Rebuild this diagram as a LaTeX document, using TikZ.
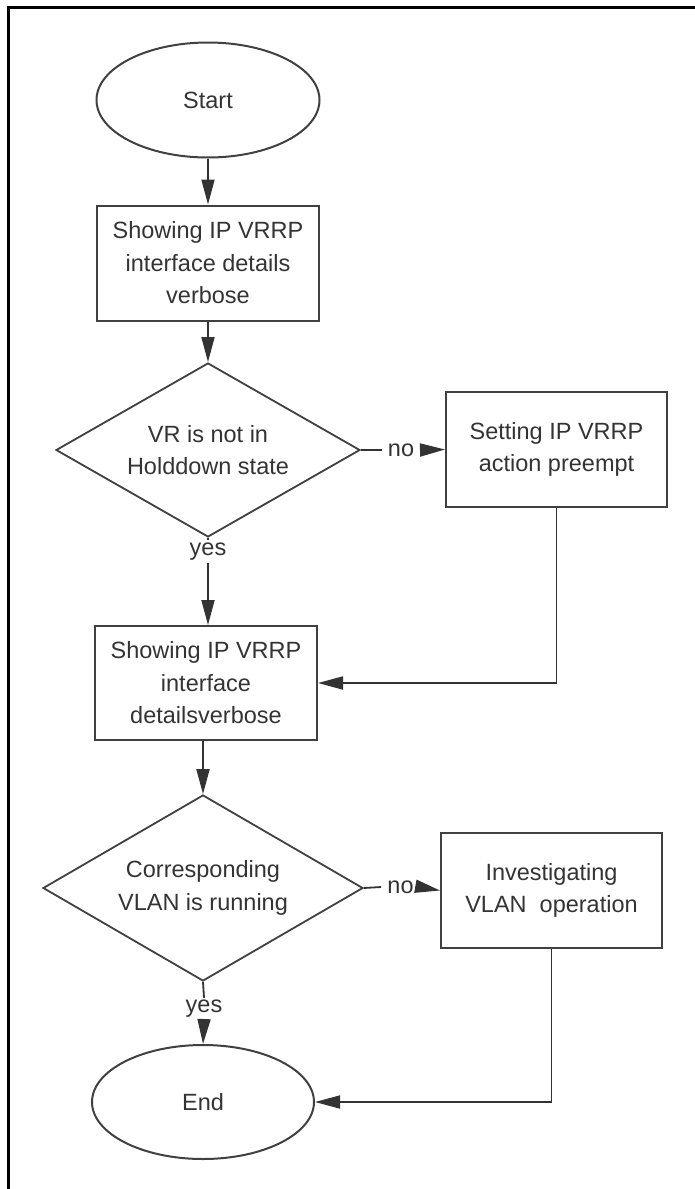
\documentclass[tikz,border=0pt]{standalone}
\usepackage{fontspec}
\setmainfont{Liberation Sans}
\usetikzlibrary{arrows.meta,shapes.geometric}

\begin{document}
\begin{tikzpicture}[x=0.5pt,y=-0.5pt,
  every node/.style={font=\fontsize{11.75}{16.25}\selectfont,text=black!80,align=center},
  terminal/.style={ellipse,draw=black!75,line width=1pt,minimum width=111.5pt,minimum height=57.5pt,inner sep=0pt},
  process/.style={rectangle,draw=black!75,line width=1pt,minimum width=111pt,minimum height=57.5pt,inner sep=0pt},
  decision/.style={diamond,draw=black!75,line width=0.9pt,aspect=1.75,inner sep=0pt},
  answer/.style={fill=white,inner xsep=3pt,inner ysep=1pt},
  flow/.style={draw=black!80,line width=0.9pt,-{Triangle[length=12.5pt,width=6.5pt]}},
  link/.style={draw=black!80,line width=0.9pt}]
\useasboundingbox (0,0) rectangle (695,1189);
\draw[line width=1.5pt] (8.5,1189) -- (8.5,7.5) -- (695,7.5);
\coordinate (S) at (208,100);
\coordinate (P1) at (208,263);
\coordinate (D1) at (208,450);
\coordinate (P2) at (556.5,449.5);
\coordinate (P3) at (206,683);
\coordinate (D2) at (203,888);
\coordinate (P4) at (551.5,890.5);
\coordinate (E) at (203,1102);
\node[terminal] (start) at (S) {Start};
\node[process] (show1) at (P1) {Showing IP VRRP\\interface details\\verbose};
\node[decision,minimum width=152pt,minimum height=87pt] (holddown) at (D1) {VR is not in\\Holddown state};
\node[process,minimum width=110.5pt] (preempt) at (P2) {Setting IP VRRP\\action preempt};
\node[process,minimum height=57pt] (show2) at (P3) {Showing IP VRRP\\interface\\detailsverbose};
\node[decision,minimum width=160pt,minimum height=93pt] (vlanrun) at (D2) {Corresponding\\VLAN is running};
\node[process,minimum width=110.5pt] (investigate) at (P4) {Investigating\\VLAN\ \ operation};
\node[terminal,minimum width=111pt,minimum height=57pt] (stop) at (E) {End};
\node[answer] (no1) at (401,450) {no};
\node[answer] (no2) at (400.5,887) {no};
\node[answer] (yes1) at (208,551.5) {yes};
\node[answer] (yes2) at (204,1009) {yes};
\draw[flow] (start) -- (show1);
\draw[flow] (show1) -- (holddown);
\draw[link] (holddown.east) -- (no1.west);
\draw[flow] (no1.east) -- (preempt.west);
\draw[link] (holddown.south) -- (yes1.north);
\draw[flow] (yes1.south) -- (yes1.south |- show2.north);
\draw[flow] (preempt.south) |- (show2.east);
\draw[flow] (show2.south -| vlanrun.north) -- (vlanrun.north);
\draw[link] (vlanrun.east) -- (no2.west);
\draw[flow] (no2.east) -- (investigate.west);
\draw[link] (vlanrun.south) -- (yes2.north);
\draw[flow] (yes2.south) -- (stop.north);
\draw[flow] (investigate.south) |- (stop.east);
\end{tikzpicture}
\end{document}
